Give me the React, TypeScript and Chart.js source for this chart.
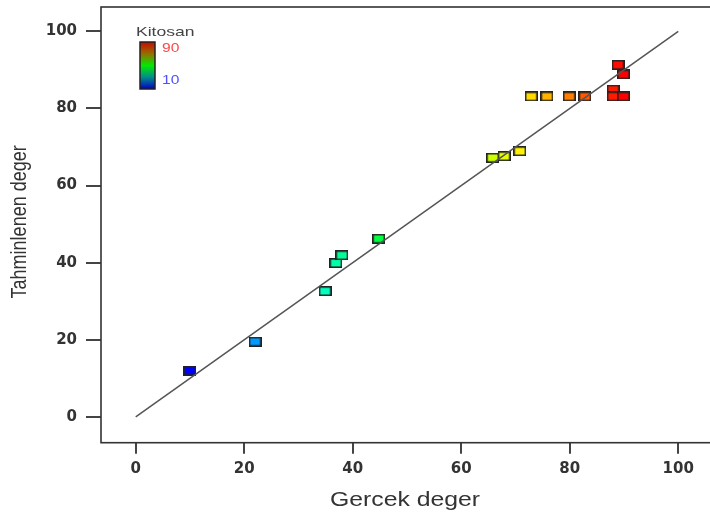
import React, { useEffect, useRef } from "react";
import { Chart, registerables } from "chart.js";

Chart.register(...registerables);

// Data
const actualValues = [10.0, 22.0, 34.9, 36.9, 38.0, 44.8, 65.8, 67.9, 70.8, 72.9, 75.8, 79.9, 82.8, 88.0, 88.0, 88.9, 89.9, 89.9];
const predictedValues = [12.0, 19.5, 32.6, 39.9, 41.9, 46.2, 67.2, 67.6, 68.9, 83.1, 83.1, 83.1, 83.1, 84.9, 83.1, 91.3, 88.8, 83.1];
const kitosanValues = [10, 22, 35, 37, 38, 45, 66, 68, 71, 73, 76, 80, 83, 88, 88, 89, 90, 90];
const diagonalX = [0, 100];
const diagonalY = [0, 100];
const tickValues = [0, 20, 40, 60, 80, 100];
const xAxisTitle = "Gercek deger";
const yAxisTitle = "Tahminlenen deger";
const legendTitle = "Kitosan";
const legendMax = 90;
const legendMin = 10;

const CANVAS_W = 720;
const CANVAS_H = 518;

function rainbow(v: number): string {
  const stops = [
    [0, 0, 255],
    [0, 255, 255],
    [0, 255, 0],
    [255, 255, 0],
    [255, 0, 0],
  ];
  const t = Math.max(0, Math.min(1, (v - legendMin) / (legendMax - legendMin)));
  const p = t * 4;
  const i = Math.min(3, Math.floor(p));
  const f = p - i;
  const a = stops[i];
  const b = stops[i + 1];
  const c = a.map((av, k) => Math.round(av + (b[k] - av) * f));
  return `rgb(${c[0]},${c[1]},${c[2]})`;
}

function makeMarker(color: string): HTMLCanvasElement {
  const c = document.createElement("canvas");
  c.width = 13;
  c.height = 10;
  const g = c.getContext("2d")!;
  g.fillStyle = color;
  g.fillRect(1, 1, 11, 8);
  g.strokeStyle = "#222";
  g.lineWidth = 1.6;
  g.strokeRect(0.8, 0.8, 11.4, 8.4);
  return c;
}

function stretchedText(ctx: CanvasRenderingContext2D, text: string, x: number, y: number, sx: number) {
  ctx.save();
  ctx.translate(x, y);
  ctx.scale(sx, 1);
  ctx.fillText(text, 0, 0);
  ctx.restore();
}

const decorPlugin = {
  id: "decor",
  afterDraw(chart: any) {
    const { ctx, chartArea: a } = chart;
    ctx.save();
    // frame
    ctx.strokeStyle = "#333";
    ctx.lineWidth = 1.6;
    ctx.strokeRect(a.left, a.top, a.right - a.left, a.bottom - a.top);

    // x title
    ctx.fillStyle = "#333";
    ctx.textAlign = "center";
    ctx.textBaseline = "middle";
    ctx.font = '21px "Liberation Sans", Arial, sans-serif';
    stretchedText(ctx, xAxisTitle, (a.left + a.right) / 2 - 2, 500, 1.18);

    // y title
    ctx.save();
    ctx.translate(20, (a.top + a.bottom) / 2 - 3);
    ctx.rotate(-Math.PI / 2);
    ctx.scale(1, 1.2);
    ctx.font = '18px "Liberation Sans", Arial, sans-serif';
    ctx.fillText(yAxisTitle, 0, 0);
    ctx.restore();

    // colour legend
    const bx = 140, by = 42, bw = 15, bh = 47;
    const grad = ctx.createLinearGradient(0, by, 0, by + bh);
    grad.addColorStop(0, "rgb(200,10,0)");
    grad.addColorStop(0.25, "rgb(150,110,0)");
    grad.addColorStop(0.5, "rgb(0,235,0)");
    grad.addColorStop(0.75, "rgb(0,140,140)");
    grad.addColorStop(1, "rgb(0,0,200)");
    ctx.fillStyle = grad;
    ctx.fillRect(bx, by, bw, bh);
    ctx.strokeStyle = "#222";
    ctx.lineWidth = 1.5;
    ctx.strokeRect(bx, by, bw, bh);

    ctx.textAlign = "left";
    ctx.font = '13px "Liberation Sans", Arial, sans-serif';
    ctx.fillStyle = "#444";
    stretchedText(ctx, legendTitle, 136, 32, 1.35);
    ctx.font = '13px "Liberation Sans", Arial, sans-serif';
    ctx.fillStyle = "rgb(255,70,70)";
    stretchedText(ctx, String(legendMax), 162, 48, 1.2);
    ctx.fillStyle = "rgb(80,80,255)";
    stretchedText(ctx, String(legendMin), 162, 80, 1.2);
    ctx.restore();
  },
};

export default function App() {
  const canvasRef = useRef<HTMLCanvasElement | null>(null);

  useEffect(() => {
    document.body.style.margin = "0";
    const canvas = canvasRef.current;
    if (!canvas) return;

    const points = actualValues.map((x, i) => ({ x, y: predictedValues[i] }));
    const markers = kitosanValues.map((k) => makeMarker(rainbow(k)));
    const diagonal = diagonalX.map((x, i) => ({ x, y: diagonalY[i] }));

    const tickFont = { family: "DejaVu Sans", size: 15, weight: "bold" as const };

    const chart = new Chart(canvas, {
      type: "scatter",
      data: {
        datasets: [
          {
            label: "diag",
            data: diagonal,
            showLine: true,
            borderColor: "#555",
            borderWidth: 1.5,
            pointRadius: 0,
            order: 0,
          } as any,
          {
            label: "points",
            data: points,
            pointStyle: markers as any,
            pointRadius: 6,
            order: 1,
          } as any,
        ],
      },
      options: {
        responsive: false,
        animation: false,
        devicePixelRatio: 1,
        layout: { padding: { top: 4.7, right: CANVAS_W - 716.6, left: 0, bottom: 0 } },
        plugins: { legend: { display: false }, tooltip: { enabled: false } },
        scales: {
          x: {
            type: "linear",
            min: -6.4,
            max: 106.4,
            afterBuildTicks: (scale: any) => {
              scale.ticks = tickValues.map((v) => ({ value: v }));
            },
            afterFit: (scale: any) => {
              scale.height = CANVAS_H - 442.7;
              scale.paddingLeft = 0;
              scale.paddingRight = 0;
            },
            grid: {
              drawOnChartArea: false,
              drawTicks: true,
              tickLength: 11,
              color: "#444",
              lineWidth: 2,
            },
            border: { display: false },
            ticks: { font: tickFont, color: "#333", padding: 6, maxRotation: 0 },
          },
          y: {
            type: "linear",
            min: -6.7,
            max: 106.3,
            afterBuildTicks: (scale: any) => {
              scale.ticks = tickValues.map((v) => ({ value: v }));
            },
            afterFit: (scale: any) => {
              scale.width = 101;
              scale.paddingTop = 0;
              scale.paddingBottom = 0;
            },
            grid: {
              drawOnChartArea: false,
              drawTicks: true,
              tickLength: 15,
              color: "#444",
              lineWidth: 2,
            },
            border: { display: false },
            ticks: { font: tickFont, color: "#333", padding: 9 },
          },
        },
      },
      plugins: [decorPlugin],
    });

    return () => chart.destroy();
  }, []);

  return (
    <div style={{ width: 710, height: CANVAS_H, overflow: "hidden", position: "relative" }}>
      <canvas
        ref={canvasRef}
        width={CANVAS_W}
        height={CANVAS_H}
        style={{ width: CANVAS_W, height: CANVAS_H, display: "block" }}
      />
    </div>
  );
}
